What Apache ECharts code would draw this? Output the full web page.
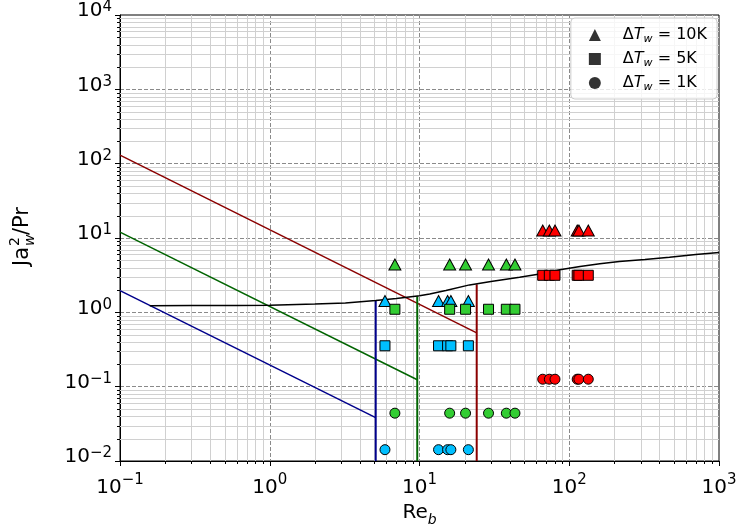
<!DOCTYPE html>
<html><head><meta charset="utf-8">
<script src="https://cdn.jsdelivr.net/npm/echarts@6/dist/echarts.min.js"></script>
<style>html,body{margin:0;padding:0;background:#fff}#c{width:738px;height:525px}</style>
</head><body><div id="c"></div>
<script>
// ---- data ----
const blueRe  = [5.88, 13.4, 15.4, 16.2, 21.2];
const greenRe = [6.85, 15.9, 20.3, 28.9, 38.0, 43.4];
const redRe   = [66.5, 73.6, 80.3, 113, 116, 134];
// Ja_w^2/Pr for dT = 10K, 5K, 1K
const blueJa  = [1.42, 0.355, 0.0142];
const greenJa = [4.4, 1.1, 0.044];
const redJa   = [12.6, 3.15, 0.126];
const blueLimit  = [[0.1, 1.96], [5.1, 0.0384]];
const greenLimit = [[0.1, 12.0], [9.66, 0.124]];
const redLimit   = [[0.1, 130], [24.1, 0.53]];
const blueVert  = [[5.1, 0.01], [5.1, 1.44]];
const greenVert = [[9.66, 0.01], [9.66, 1.65]];
const redVert   = [[24.1, 0.01], [24.1, 2.38]];
const curve = [[0.158,1.23],[0.3,1.232],[0.6,1.237],[1,1.243],[2,1.29],[3.2,1.34],[5.1,1.44],[7,1.53],[10,1.67],[11.7,1.77],[15,1.97],[21.6,2.34],[30,2.6],[46.6,2.96],[65,3.3],[86.6,3.73],[118,4.13],[160,4.5],[216,4.83],[320,5.15],[467,5.52],[700,6.0],[1000,6.38]];
const legendNames = ['10K', '5K', '1K'];
const shapes = ['triangle', 'rect', 'circle'];
const shapeSizes = [[12, 11], 10, 10];

// minor tick positions (axis decoration)
const xMinor = []; for (let e = -1; e < 3; e++) for (let m = 2; m < 10; m++) xMinor.push(m * Math.pow(10, e));
const yMinor = []; for (let e = -2; e < 4; e++) for (let m = 2; m < 10; m++) yMinor.push(m * Math.pow(10, e));

const FONT = 'DejaVu Sans';
const powLabel = v => {
  const e = Math.round(Math.log10(v));
  return '{b|10}{s|' + String(e).replace('-', '\u2212') + '}';
};
const xLabelRich = {
  b: {fontFamily: FONT, fontSize: 20, color: '#000', lineHeight: 30},
  s: {fontFamily: FONT, fontSize: 15, color: '#000', lineHeight: 15, verticalAlign: 'top'}
};
const yLabelRich = {
  b: {fontFamily: FONT, fontSize: 20, color: '#000', lineHeight: 30, padding: [0, 0, 8, 0]},
  s: {fontFamily: FONT, fontSize: 15, color: '#000', lineHeight: 15, verticalAlign: 'top'}
};

const series = [];
series.push({
  type: 'custom', coordinateSystem: 'cartesian2d', silent: true, clip: false, z: 1,
  data: xMinor.map(v => [v, 1]),
  renderItem: (params, api) => {
    const cs = params.coordSys;
    const px = Math.round(api.coord([api.value(0), 1])[0]) + 0.5;
    const yb = cs.y + cs.height;
    return {type: 'group', children: [
      {type: 'line', shape: {x1: px, y1: cs.y, x2: px, y2: yb}, style: {stroke: '#d0d0d0', lineWidth: 1}},
      {type: 'line', shape: {x1: px, y1: yb, x2: px, y2: yb + 3}, style: {stroke: '#000', lineWidth: 1}}
    ]};
  }
});
series.push({
  type: 'custom', coordinateSystem: 'cartesian2d', silent: true, clip: false, z: 1,
  data: yMinor.map(v => [1, v]),
  renderItem: (params, api) => {
    const cs = params.coordSys;
    const py = Math.round(api.coord([1, api.value(1)])[1]) + 0.5;
    return {type: 'group', children: [
      {type: 'line', shape: {x1: cs.x, y1: py, x2: cs.x + cs.width, y2: py}, style: {stroke: '#d0d0d0', lineWidth: 1}},
      {type: 'line', shape: {x1: cs.x - 3, y1: py, x2: cs.x, y2: py}, style: {stroke: '#000', lineWidth: 1}}
    ]};
  }
});
const lineS = (data, color, width) => ({type: 'line', data, symbol: 'none', silent: true, z: 3,
  lineStyle: {color, width}});
series.push(lineS(blueLimit, '#00008B', 1.5));
series.push(lineS(greenLimit, '#006400', 1.5));
series.push(lineS(redLimit, '#8B0000', 1.5));
series.push(lineS(blueVert, '#00008B', 2));
series.push(lineS(greenVert, '#006400', 2));
series.push(lineS(redVert, '#8B0000', 2));
series.push(lineS(curve, '#000000', 1.5));

const groups = [[blueRe, blueJa, '#00BFFF'], [greenRe, greenJa, '#32CD32'], [redRe, redJa, '#FF0000']];
groups.forEach(([re, ja, col]) => {
  for (let k = 0; k < 3; k++) {
    series.push({type: 'scatter', data: re.map(r => [r, ja[k]]), symbol: shapes[k], symbolSize: shapeSizes[k],
      z: 5, silent: true, itemStyle: {color: col, borderColor: '#000', borderWidth: 1, opacity: 1}});
  }
});
// legend-only series
for (let k = 0; k < 3; k++) {
  series.push({type: 'scatter', name: legendNames[k], data: [], symbol: shapes[k], itemStyle: {color: '#000'}});
}

const chart = echarts.init(document.getElementById('c'), null, {renderer: 'canvas'});
chart.setOption({
  animation: false,
  backgroundColor: '#fff',
  grid: {left: 120, right: 19, top: 15, bottom: 64, show: true, borderColor: '#000', borderWidth: 1,
    backgroundColor: 'transparent', containLabel: false, outerBoundsMode: 'none'},
  xAxis: {
    type: 'log', logBase: 10, min: 0.1, max: 1000, splitNumber: 4,
    axisLine: {show: true, lineStyle: {color: '#000', width: 1}},
    axisTick: {show: true, inside: false, length: 5, lineStyle: {color: '#000'}},
    axisLabel: {margin: 12, formatter: powLabel, rich: xLabelRich},
    splitLine: {show: true, showMinLine: false, showMaxLine: false, lineStyle: {color: '#8a8a8a', type: [4, 2], width: 1}},
    name: '{n|Re}{b|b}', nameLocation: 'middle', nameGap: 33,
    nameTextStyle: {rich: {
      n: {fontFamily: FONT, fontSize: 20, color: '#000', lineHeight: 28},
      b: {fontFamily: FONT, fontSize: 14, fontStyle: 'italic', color: '#000', lineHeight: 14, verticalAlign: 'bottom'}
    }}
  },
  yAxis: {
    type: 'log', logBase: 10, min: 0.01, max: 10000, splitNumber: 6,
    axisLine: {show: true, lineStyle: {color: '#000', width: 1}},
    axisTick: {show: true, inside: false, length: 5, lineStyle: {color: '#000'}},
    axisLabel: {margin: 8, formatter: powLabel, rich: yLabelRich},
    splitLine: {show: true, showMinLine: false, showMaxLine: false, lineStyle: {color: '#8a8a8a', type: [4, 2], width: 1}}
  },
  legend: {
    orient: 'vertical', right: 21, top: 18, itemWidth: 12, itemHeight: 12, itemGap: 6,
    padding: [9, 10, 6, 18], backgroundColor: 'rgba(255,255,255,0.8)', borderColor: '#cccccc', borderWidth: 1, borderRadius: 4,
    selectedMode: false,
    data: legendNames.map((n, k) => ({name: n, icon: shapes[k]})),
    formatter: n => '{d|\u0394}{i|T}{s|w}{g| = ' + n + '}',
    textStyle: {fontFamily: FONT, fontSize: 16, color: '#000', rich: {
      d: {fontFamily: FONT, fontSize: 16, color: '#000', padding: [0, 0, 0, 17], lineHeight: 20},
      i: {fontFamily: FONT, fontSize: 16, fontStyle: 'italic', color: '#000', lineHeight: 20},
      s: {fontFamily: FONT, fontSize: 11, fontStyle: 'italic', color: '#000', lineHeight: 11, verticalAlign: 'bottom'},
      g: {fontFamily: FONT, fontSize: 16, color: '#000', lineHeight: 20}
    }}
  },
  graphic: [{
    type: 'group', x: 23, y: 231, rotation: Math.PI / 2,
    children: [
      {type: 'text', x: -35, y: 0, style: {text: 'Ja', font: '21px "DejaVu Sans"', fill: '#000', verticalAlign: 'middle', align: 'left'}},
      {type: 'text', x: -15, y: -8, style: {text: '2', font: '14px "DejaVu Sans"', fill: '#000', verticalAlign: 'middle', align: 'left'}},
      {type: 'text', x: -15, y: 7, style: {text: 'w', font: 'italic 14px "DejaVu Sans"', fill: '#000', verticalAlign: 'middle', align: 'left'}},
      {type: 'text', x: -4, y: 0, style: {text: '/Pr', font: '21px "DejaVu Sans"', fill: '#000', verticalAlign: 'middle', align: 'left'}}
    ]
  }],
  series
});
</script></body></html>
